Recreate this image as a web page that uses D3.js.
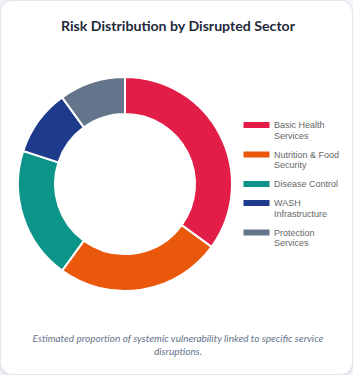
<!DOCTYPE html>
<html>
<head>
<meta charset="utf-8">
<script src="https://cdn.jsdelivr.net/npm/d3@7"></script>
<style>
  html, body { margin: 0; padding: 0; background: #f1f5f9; }
  body { width: 353px; height: 375px; overflow: hidden; }
  .card {
    position: absolute; left: 0; top: 0; width: 351px; height: 373px;
    background: #fff; border: 1px solid #e5e7eb; border-radius: 12px;
    box-shadow: 0 1px 3px rgba(0,0,0,0.12);
  }
  svg { position: absolute; left: 0; top: 0; }
</style>
</head>
<body>
<div class="card"></div>
<div id="chart"></div>
<script>
// sector shares
const sectors = ["Basic Health Services", "Nutrition & Food Security", "Disease Control", "WASH Infrastructure", "Protection Services"];
const legendLines = [["Basic Health", "Services"], ["Nutrition & Food", "Security"], ["Disease Control"], ["WASH", "Infrastructure"], ["Protection", "Services"]];
const shares = [35, 25, 20, 10, 10];
const colors = ["#e11d48", "#ea580c", "#0d9488", "#1e3a8a", "#64748b"];

const width = 353, height = 375;
const cx = 125, cy = 184, outerR = 107, innerR = 70;

const svg = d3.select("#chart")
    .append("svg")
    .attr("width", width)
    .attr("height", height);

// title (reference face is narrower than anything installed, so squeeze it)
svg.append("text")
    .attr("x", 178)
    .attr("y", 30.5)
    .attr("text-anchor", "middle")
    .attr("font-family", "Lato")
    .attr("font-weight", "bold")
    .attr("font-size", 14)
    .attr("fill", "#1e293b")
    .attr("textLength", 234)
    .attr("lengthAdjust", "spacingAndGlyphs")
    .text("Risk Distribution by Disrupted Sector");

const pie = d3.pie().sort(null).value(d => d);
const arc = d3.arc().innerRadius(innerR).outerRadius(outerR);

const g = svg.append("g")
    .attr("transform", "translate(" + cx + "," + cy + ")");

g.selectAll("path")
    .data(pie(shares))
    .enter()
    .append("path")
    .attr("d", arc)
    .attr("fill", (d, i) => colors[i])
    .attr("stroke", "#fff")
    .attr("stroke-width", 2);

// legend
const lineH = 10.5, gap = 8.5;
let ly = 121;
const legend = svg.append("g");
legendLines.forEach(function(lines, i) {
    legend.append("rect")
        .attr("x", 243.5)
        .attr("y", ly + 1)
        .attr("width", 26)
        .attr("height", 6)
        .attr("fill", colors[i]);
    lines.forEach(function(t, j) {
        legend.append("text")
            .attr("x", 274)
            .attr("y", ly + 7 + j * lineH)
            .attr("font-family", "Liberation Sans, Arial")
            .attr("font-size", 9)
            .attr("fill", "#666")
            .text(t);
    });
    ly += lines.length * lineH + gap;
});

// caption
const cap = ["Estimated proportion of systemic vulnerability linked to specific service", "disruptions."];
cap.forEach(function(t, j) {
    svg.append("text")
        .attr("x", 178)
        .attr("y", 342 + j * 12.5)
        .attr("text-anchor", "middle")
        .attr("font-family", "Lato")
        .attr("font-style", "italic")
        .attr("font-size", 10)
        .attr("fill", "#64748b")
        .text(t);
});
</script>
</body>
</html>
